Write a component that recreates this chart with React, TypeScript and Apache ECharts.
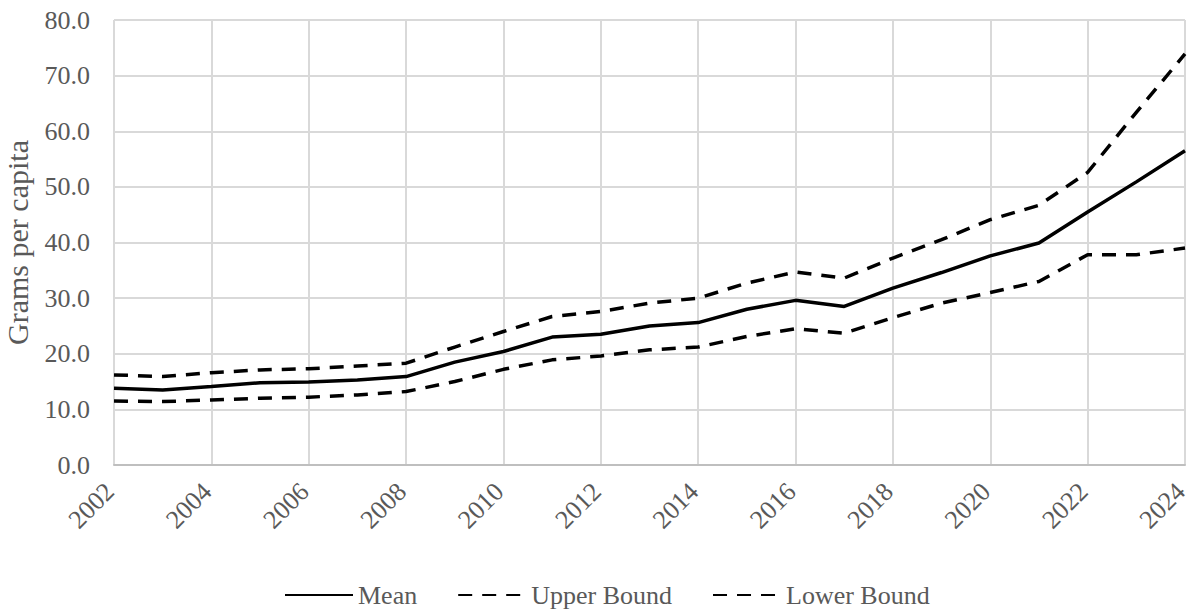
import React, { useEffect, useRef } from "react";
import * as echarts from "echarts";

const years = ["2002","2003","2004","2005","2006","2007","2008","2009","2010","2011","2012","2013","2014","2015","2016","2017","2018","2019","2020","2021","2022","2023","2024"];
const meanValues = [13.8, 13.5, 14.1, 14.8, 14.9, 15.3, 15.9, 18.5, 20.4, 23.0, 23.5, 25.0, 25.6, 28.0, 29.6, 28.5, 31.8, 34.6, 37.6, 39.9, 45.5, 50.9, 56.5];
const upperValues = [16.2, 15.9, 16.6, 17.1, 17.3, 17.8, 18.3, 21.2, 24.0, 26.7, 27.6, 29.1, 30.0, 32.7, 34.7, 33.6, 37.2, 40.5, 44.1, 46.7, 52.6, 63.4, 73.9];
const lowerValues = [11.5, 11.4, 11.7, 12.0, 12.2, 12.6, 13.2, 15.0, 17.2, 18.9, 19.6, 20.7, 21.2, 23.1, 24.5, 23.7, 26.5, 29.1, 31.0, 33.0, 37.8, 37.8, 39.0];
const yTicks = { min: 0, max: 80, interval: 10 };

const FONT = "'Liberation Serif', 'Times New Roman', serif";
const TEXT = "#595959";

export default function App() {
  const ref = useRef<HTMLDivElement>(null);
  useEffect(() => {
    document.body.style.margin = "0";
    if (!ref.current) return;
    const chart = echarts.init(ref.current, undefined, { renderer: "svg" });
    const dashed = { color: "#000", width: 3.5, type: [14, 10] as any };
    chart.setOption({
      animation: false,
      backgroundColor: "#fff",
      textStyle: { fontFamily: FONT, color: TEXT },
      grid: { left: 114, right: 6, top: 20, bottom: 144, containLabel: false, outerBoundsMode: "none" },
      legend: {
        bottom: -4,
        left: 279,
        itemWidth: 68,
        itemHeight: 14,
        itemGap: 40,
        itemStyle: { color: "transparent", borderWidth: 0 },
        textStyle: { fontFamily: FONT, fontSize: 26, color: TEXT },
        data: ["Mean", "Upper Bound", "Lower Bound"],
      },
      xAxis: {
        type: "category",
        data: years,
        boundaryGap: false,
        axisLine: { lineStyle: { color: "#bfbfbf", width: 2 } },
        axisTick: { show: false },
        axisLabel: { interval: 1, rotate: 45, fontFamily: FONT, fontSize: 26, color: TEXT, margin: 18, padding: [0, 6, 0, 0] },
        splitLine: { show: true, interval: 1, lineStyle: { color: "#d9d9d9", width: 2 } },
      },
      yAxis: {
        type: "value",
        min: yTicks.min,
        max: yTicks.max,
        interval: yTicks.interval,
        name: "Grams per capita",
        nameLocation: "middle",
        nameGap: 82,
        nameTextStyle: { fontFamily: FONT, fontSize: 30, color: TEXT },
        axisLine: { show: false },
        axisTick: { show: false },
        axisLabel: { fontFamily: FONT, fontSize: 26, color: TEXT, margin: 24, formatter: (v: number) => v.toFixed(1) },
        splitLine: { lineStyle: { color: "#d9d9d9", width: 2 } },
      },
      series: [
        { name: "Mean", type: "line", data: meanValues, symbol: "none", lineStyle: { color: "#000", width: 3.5 }, itemStyle: { color: "#000" } },
        { name: "Upper Bound", type: "line", data: upperValues, symbol: "none", lineStyle: dashed, itemStyle: { color: "#000" } },
        { name: "Lower Bound", type: "line", data: lowerValues, symbol: "none", lineStyle: dashed, itemStyle: { color: "#000" } },
      ],
    });
    return () => chart.dispose();
  }, []);
  return <div ref={ref} style={{ width: 1191, height: 609 }} />;
}
